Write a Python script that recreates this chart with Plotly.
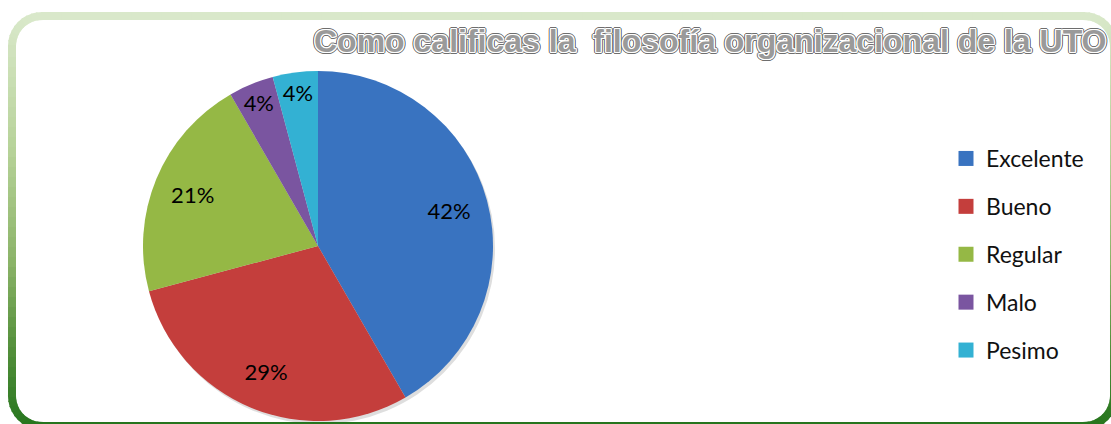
import plotly.graph_objects as go
import math

# ---- data ----
categories = ["Excelente", "Bueno", "Regular", "Malo", "Pesimo"]
counts = [10, 7, 5, 1, 1]
colors = ["#3973C0", "#C43E3C", "#95B845", "#7A55A0", "#33B1D3"]
title_text = "Como calificas la \u00a0filosofía organizacional de la UTO"

W, H = 1111, 424

def px(x):
    return x / W

def py(y):
    return 1 - y / H

fig = go.Figure()

# pie geometry (pixels)
cx, cy, r = 318, 246, 175
pie_domain = dict(x=[px(cx - r), px(cx + r)], y=[py(cy + r), py(cy - r)])

# subtle shadow
fig.add_trace(go.Pie(
    values=[1], labels=["s"], marker=dict(colors=["rgba(0,0,0,0.13)"]),
    domain=dict(x=[px(cx - r + 2), px(cx + r + 2)], y=[py(cy + r + 3), py(cy - r + 3)]),
    textinfo="none", hoverinfo="skip", showlegend=False, sort=False,
))

# main pie
fig.add_trace(go.Pie(
    labels=categories, values=counts, sort=False, direction="clockwise", rotation=0,
    marker=dict(colors=colors, line=dict(width=0)),
    textinfo="none",
    domain=pie_domain,
    showlegend=False,
))

# transparent ring carrying the percentage labels further out (like Excel)
fig.add_trace(go.Pie(
    labels=categories, values=counts, sort=False, direction="clockwise", rotation=0,
    hole=0.55,
    marker=dict(colors=["rgba(0,0,0,0)"] * len(categories), line=dict(width=0)),
    texttemplate="%{percent:.0%}", textposition="inside",
    insidetextorientation="horizontal",
    textfont=dict(family="Lato", size=22, color="#000000"),
    domain=pie_domain,
    showlegend=False, hoverinfo="skip",
))

# legend entries
for c, col in zip(categories, colors):
    fig.add_trace(go.Scatter(
        x=[None], y=[None], mode="markers", name=c, legendgroup=c,
        marker=dict(symbol="square", size=15, color=col),
        showlegend=True,
    ))

# rounded border with vertical gradient
L, T, R, B, rad = 12, 16, 1114, 426, 30
pts = []
def arc(cxa, cya, a0, a1, n=10):
    for k in range(n + 1):
        a = math.radians(a0 + (a1 - a0) * k / n)
        pts.append((cxa + rad * math.cos(a), cya + rad * math.sin(a)))
arc(L + rad, T + rad, 180, 270)
arc(R - rad, T + rad, 270, 360)
arc(R - rad, B - rad, 0, 90)
arc(L + rad, B - rad, 90, 180)
pts.append(pts[0])
dense = []
for (x0, y0), (x1, y1) in zip(pts[:-1], pts[1:]):
    d = math.hypot(x1 - x0, y1 - y0)
    n = max(1, int(d // 10))
    for k in range(n):
        dense.append((x0 + (x1 - x0) * k / n, y0 + (y1 - y0) * k / n))
dense.append(pts[-1])

stops = [(0, (221, 235, 208)), (150, (182, 210, 152)), (260, (140, 180, 105)),
         (340, (88, 146, 62)), (430, (36, 116, 28))]
def grad(y):
    for (ya, ca), (yb, cb) in zip(stops[:-1], stops[1:]):
        if y <= yb:
            t = max(0, (y - ya) / (yb - ya))
            return "rgb(%d,%d,%d)" % tuple(round(a + (b - a) * t) for a, b in zip(ca, cb))
    return "rgb(%d,%d,%d)" % stops[-1][1]

shapes = []
for (x0, y0), (x1, y1) in zip(dense[:-1], dense[1:]):
    dx, dy = x1 - x0, y1 - y0
    d = math.hypot(dx, dy) or 1
    ex, ey = dx / d * 1.0, dy / d * 1.0
    path = "M %f,%f L %f,%f" % (px(x0 - ex), py(y0 - ey), px(x1 + ex), py(y1 + ey))
    shapes.append(dict(type="path", xref="paper", yref="paper", path=path,
                       line=dict(color=grad((y0 + y1) / 2), width=8)))

outline = ("1px 0 0 #fff, -1px 0 0 #fff, 0 1px 0 #fff, 0 -1px 0 #fff, "
           "1px 1px 0 #fff, -1px -1px 0 #fff, 1px -1px 0 #fff, -1px 1px 0 #fff, "
           "2px 0 0 #6e6e6e, -2px 0 0 #6e6e6e, 0 2px 0 #6e6e6e, 0 -2px 0 #6e6e6e, "
           "2px 1px 0 #6e6e6e, -2px -1px 0 #6e6e6e, 1px -2px 0 #6e6e6e, -1px 2px 0 #6e6e6e, "
           "2px -1px 0 #6e6e6e, -2px 1px 0 #6e6e6e, 1px 2px 0 #6e6e6e, -1px -2px 0 #6e6e6e")

fig.update_layout(
    width=W, height=H,
    margin=dict(l=0, r=0, t=0, b=0),
    paper_bgcolor="white", plot_bgcolor="white",
    xaxis=dict(visible=False), yaxis=dict(visible=False),
    shapes=shapes,
    title=dict(text=title_text, x=px(314), xanchor="left", xref="paper",
               y=py(41), yanchor="middle", yref="paper",
               font=dict(family="Liberation Sans", size=32, color="#9a9a9a",
                         weight="bold", shadow=outline)),
    legend=dict(x=px(946), xanchor="left", y=py(137), yanchor="top",
                font=dict(family="Lato", size=23, color="#111111"),
                tracegroupgap=15, bgcolor="rgba(0,0,0,0)"),
    showlegend=True,
)

fig.write_html("out.html")
